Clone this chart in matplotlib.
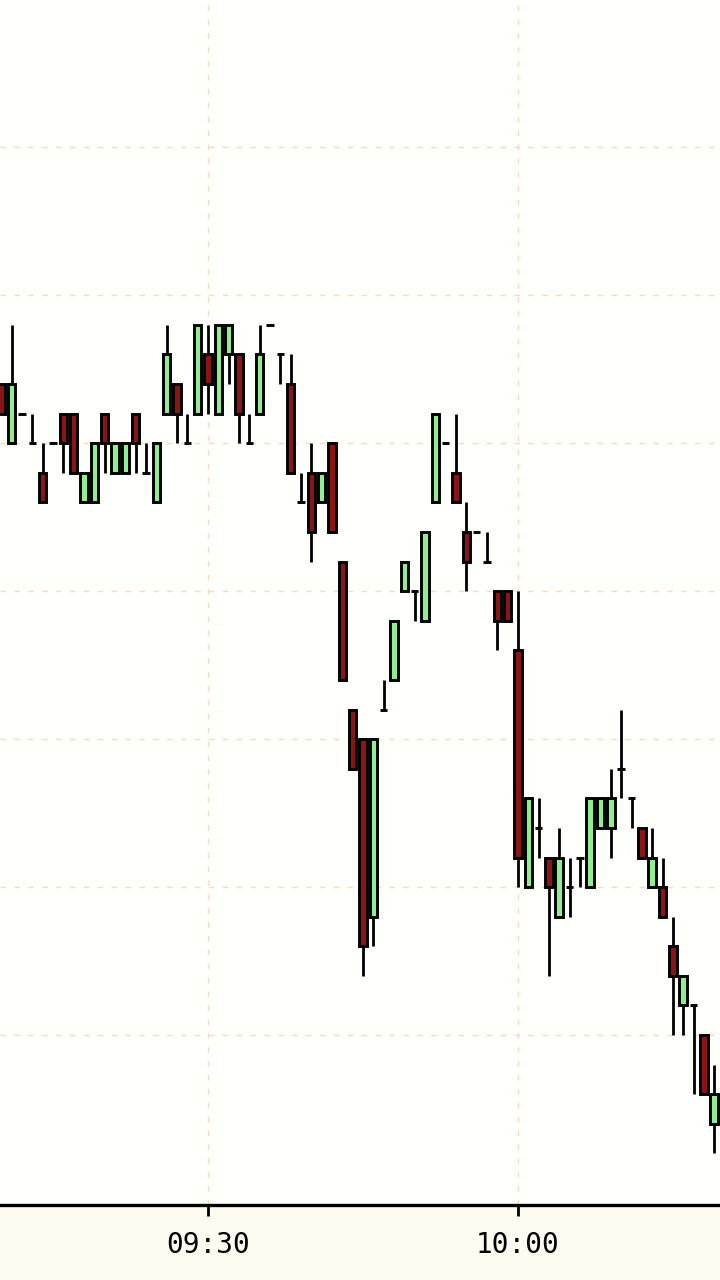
import matplotlib
matplotlib.use('Agg')
import matplotlib.pyplot as plt
from matplotlib.patches import Rectangle

# one-minute bars, 09:10 .. 10:19
times = ['09:10', '09:11', '09:12', '09:13', '09:14', '09:15', '09:16', '09:17', '09:18', '09:19',
         '09:20', '09:21', '09:22', '09:23', '09:24', '09:25', '09:26', '09:27', '09:28', '09:29',
         '09:30', '09:31', '09:32', '09:33', '09:34', '09:35', '09:36', '09:37', '09:38', '09:39',
         '09:40', '09:41', '09:42', '09:43', '09:44', '09:45', '09:46', '09:47', '09:48', '09:49',
         '09:50', '09:51', '09:52', '09:53', '09:54', '09:55', '09:56', '09:57', '09:58', '09:59',
         '10:00', '10:01', '10:02', '10:03', '10:04', '10:05', '10:06', '10:07', '10:08', '10:09',
         '10:10', '10:11', '10:12', '10:13', '10:14', '10:15', '10:16', '10:17', '10:18', '10:19']
opens = [102.2, 102.0, 102.1, 102.0, 101.9, 102.0, 102.1, 102.1, 101.8, 101.8,
         102.1, 101.9, 101.9, 102.1, 101.9, 101.8, 102.1, 102.2, 102.0, 102.1,
         102.3, 102.1, 102.3, 102.3, 102.0, 102.1, 102.4, 102.3, 102.2, 101.8,
         101.9, 101.8, 102.0, 101.6, 101.1, 101.0, 100.4, 101.1, 101.2, 101.5,
         101.5, 101.4, 101.8, 102.0, 101.9, 101.7, 101.7, 101.6, 101.5, 101.5,
         101.3, 100.5, 100.7, 100.6, 100.4, 100.5, 100.6, 100.5, 100.7, 100.7,
         100.9, 100.8, 100.7, 100.5, 100.5, 100.3, 100.1, 100.1, 100.0, 99.7]
highs = [102.2, 102.4, 102.1, 102.1, 102.0, 102.0, 102.1, 102.1, 101.9, 102.0,
         102.1, 102.0, 102.0, 102.1, 102.0, 102.0, 102.4, 102.2, 102.1, 102.4,
         102.4, 102.4, 102.4, 102.3, 102.1, 102.4, 102.4, 102.3, 102.3, 101.9,
         102.0, 101.9, 102.0, 101.6, 101.1, 101.0, 101.0, 101.2, 101.4, 101.6,
         101.5, 101.7, 102.1, 102.0, 102.1, 101.8, 101.7, 101.7, 101.5, 101.5,
         101.5, 100.8, 100.8, 100.6, 100.7, 100.6, 100.6, 100.8, 100.8, 100.9,
         101.1, 100.8, 100.7, 100.7, 100.6, 100.4, 100.2, 100.1, 100.0, 99.9]
lows = [102.1, 102.0, 102.1, 102.0, 101.8, 102.0, 101.9, 101.9, 101.8, 101.8,
        101.9, 101.9, 101.9, 101.9, 101.9, 101.8, 102.1, 102.0, 102.0, 102.1,
        102.1, 102.1, 102.2, 102.0, 102.0, 102.1, 102.4, 102.2, 101.9, 101.8,
        101.6, 101.8, 101.7, 101.2, 100.9, 100.2, 100.3, 101.1, 101.2, 101.5,
        101.4, 101.4, 101.8, 102.0, 101.8, 101.5, 101.7, 101.6, 101.3, 101.4,
        100.5, 100.5, 100.6, 100.2, 100.4, 100.4, 100.5, 100.5, 100.7, 100.6,
        100.8, 100.7, 100.6, 100.5, 100.4, 100.0, 100.0, 99.8, 99.8, 99.6]
closes = [102.1, 102.2, 102.1, 102.0, 101.8, 102.0, 102.0, 101.9, 101.9, 102.0,
          102.0, 102.0, 102.0, 102.0, 101.9, 102.0, 102.3, 102.1, 102.0, 102.4,
          102.2, 102.4, 102.4, 102.1, 102.0, 102.3, 102.4, 102.3, 101.9, 101.8,
          101.7, 101.9, 101.7, 101.2, 100.9, 100.3, 101.0, 101.1, 101.4, 101.6,
          101.5, 101.7, 102.1, 102.0, 101.8, 101.6, 101.7, 101.6, 101.4, 101.4,
          100.6, 100.8, 100.7, 100.5, 100.6, 100.5, 100.6, 100.8, 100.8, 100.8,
          100.9, 100.8, 100.6, 100.6, 100.4, 100.2, 100.2, 100.1, 99.8, 99.8]

xtick_labels = ['09:30', '10:00']
price_grid = [100.0, 100.5, 101.0, 101.5, 102.0, 102.5, 103.0]


def to_min(s):
    h, m = s.split(':')
    return int(h) * 60 + int(m) - 9 * 60


x = [to_min(t) for t in times]

fig = plt.figure(figsize=(7.2, 12.8), dpi=100, facecolor='#fefcf1')
ax = fig.add_axes([0, 1 - 1205 / 1280, 1, 1205 / 1280])
ax.set_facecolor('#fffffb')

w = 0.74
ax.vlines(x, lows, highs, color='black', lw=2.0, zorder=2)
for xi, o, c in zip(x, opens, closes):
    fc = '#90ee90' if c > o else '#8b1414'
    ax.add_patch(Rectangle((xi - w / 2, min(o, c)), w, abs(c - o),
                           facecolor=fc, edgecolor='black', lw=2.1, zorder=3))

ax.set_xlim(9.87, 79.55)
ax.set_ylim(99.426, 103.497)

ax.set_xticks([to_min(s) for s in xtick_labels])
ax.set_xticklabels(xtick_labels, family='DejaVu Sans Mono', fontsize=20)
ax.set_yticks(price_grid)
ax.tick_params(axis='x', direction='out', length=8, width=2.0, pad=11, color='black')
ax.tick_params(axis='y', left=False, labelleft=False)
ax.grid(True, color='#f7d9c6', lw=1.0, ls=(0, (4, 6)), zorder=0)

for s in ['left', 'right', 'top']:
    ax.spines[s].set_visible(False)
ax.spines['bottom'].set_linewidth(2.4)

fig.savefig('out.png', dpi=100, facecolor=fig.get_facecolor())
